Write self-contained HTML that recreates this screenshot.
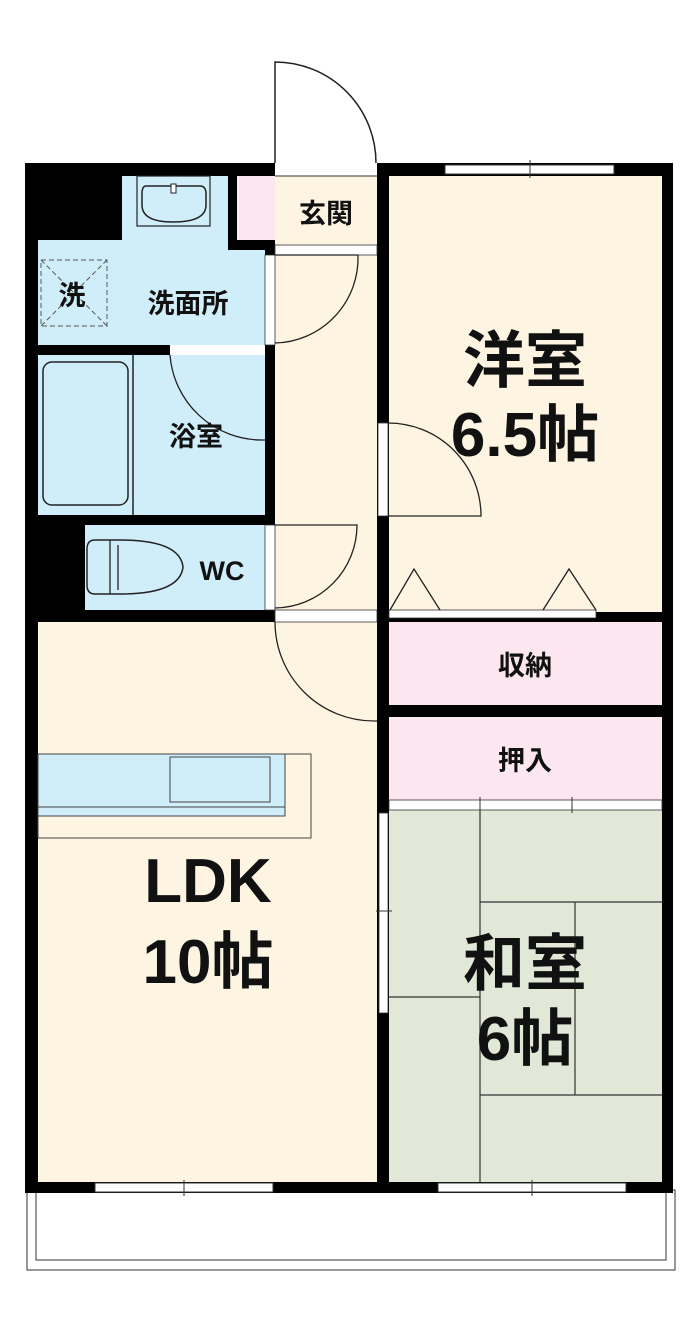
<!DOCTYPE html>
<html><head><meta charset="utf-8"><style>
html,body{margin:0;padding:0;background:#fff;}
svg{display:block;}
text{font-family:"Liberation Sans","Noto Sans CJK JP",sans-serif;fill:#111;text-anchor:middle;}
.big{font-size:62px;font-weight:bold;}
.sm{font-size:27px;font-weight:bold;}
</style></head><body>
<svg width="700" height="1333" viewBox="0 0 700 1333" xmlns="http://www.w3.org/2000/svg">
<rect x="27" y="1190" width="648" height="80" fill="#fff" stroke="#555" stroke-width="1.2"/>
<rect x="36" y="1190" width="630" height="70" fill="none" stroke="#555" stroke-width="1.2"/>
<rect x="25" y="163" width="648" height="1030" fill="#000"/>
<rect x="389" y="176" width="273" height="436" fill="#fdf5e2"/>
<rect x="38" y="622" width="339" height="560" fill="#fdf5e2"/>
<rect x="275" y="176" width="102" height="434" fill="#fdf5e2"/>
<rect x="389" y="622" width="273" height="83" fill="#fce6ef"/>
<rect x="389" y="717" width="273" height="83" fill="#fce6ef"/>
<rect x="389" y="810" width="273" height="372" fill="#e2e8d8"/>
<rect x="237" y="176" width="38" height="64" fill="#fce6ef"/>
<path d="M122 176 H228 V250 H265 V345 H38 V240 H122 Z" fill="#d0eefa"/>
<rect x="38" y="355" width="227" height="160" fill="#d0eefa"/>
<rect x="85" y="525" width="180" height="85" fill="#d0eefa"/>
<rect x="265" y="250" width="10" height="360" fill="#000"/>
<rect x="137" y="176" width="73" height="50" fill="none" stroke="#222" stroke-width="1.2"/>
<path d="M146 186 H200 Q206 186 206 194 V205 Q206 222 173 222 Q142 222 142 205 V194 Q142 186 146 186 Z" fill="none" stroke="#222" stroke-width="1.5"/>
<rect x="171" y="184" width="5" height="9" fill="#fff" stroke="#222"/>
<rect x="41" y="260" width="66" height="66" fill="none" stroke="#555" stroke-dasharray="5,3"/>
<path d="M41 260 L107 326 M107 260 L41 326" stroke="#555" stroke-dasharray="5,3"/>
<rect x="43" y="362" width="85" height="143" rx="9" fill="none" stroke="#222" stroke-width="1.5"/>
<line x1="133" y1="355" x2="133" y2="515" stroke="#222" stroke-width="1.5"/>
<rect x="170" y="345" width="95" height="10" fill="#fff"/>
<path d="M170 355 A92 92 0 0 0 262 440 L265 440" fill="none" stroke="#222" stroke-width="1.3"/>
<path d="M95 540 H120 Q180 540 183 567 Q180 594 120 594 H95 Q87 594 87 585 V549 Q87 540 95 540 Z" fill="#d0eefa" stroke="#222" stroke-width="1.5"/>
<line x1="110" y1="540" x2="110" y2="594" stroke="#222" stroke-width="1.3"/>
<line x1="118" y1="545" x2="118" y2="590" stroke="#222" stroke-width="1.3"/>
<rect x="275" y="163" width="102" height="13" fill="#fff"/>
<line x1="275" y1="176" x2="377" y2="176" stroke="#333"/>
<path d="M275 163 V62 A101 101 0 0 1 376 163" fill="none" stroke="#222" stroke-width="1.5"/>
<rect x="275" y="245" width="102" height="10" fill="#fff" stroke="#333" stroke-width="0.8"/>
<rect x="265" y="255" width="10" height="90" fill="#fff" stroke="#333" stroke-width="0.8"/>
<path d="M275 255 H358 A85 85 0 0 1 275 343" fill="none" stroke="#222" stroke-width="1.3"/>
<rect x="265" y="525" width="10" height="85" fill="#fff" stroke="#333" stroke-width="0.8"/>
<path d="M275 525 H357 A83 83 0 0 1 275 608" fill="none" stroke="#222" stroke-width="1.3"/>
<rect x="275" y="610" width="102" height="12" fill="#fff" stroke="#333" stroke-width="0.8"/>
<path d="M275 622 A99 99 0 0 0 374 721 L377 721" fill="none" stroke="#222" stroke-width="1.3"/>
<rect x="445" y="165" width="169" height="9" fill="#fff" stroke="#333"/>
<line x1="530" y1="160" x2="530" y2="178" stroke="#333"/>
<rect x="378" y="423" width="10" height="93" fill="#fff" stroke="#333" stroke-width="0.8"/>
<path d="M388 423 A93 93 0 0 1 481 516 H388" fill="none" stroke="#222" stroke-width="1.3"/>
<rect x="389" y="610" width="207" height="8" fill="#fff" stroke="#333" stroke-width="0.8"/>
<path d="M390 610 L414 569 L440 610 M543 610 L569 569 L596 610" fill="none" stroke="#222" stroke-width="1.3"/>
<rect x="389" y="800" width="273" height="10" fill="#fff" stroke="#333" stroke-width="0.8"/>
<line x1="480" y1="797" x2="480" y2="813" stroke="#333"/>
<line x1="572" y1="797" x2="572" y2="813" stroke="#333"/>
<rect x="379" y="813" width="9" height="200" fill="#fff" stroke="#333" stroke-width="0.8"/>
<line x1="376" y1="911" x2="392" y2="911" stroke="#333"/>
<g stroke="#333" stroke-width="1.2" fill="none">
<line x1="480" y1="810" x2="480" y2="1182"/>
<line x1="480" y1="902" x2="662" y2="902"/>
<line x1="575" y1="902" x2="575" y2="1095"/>
<line x1="389" y1="997" x2="480" y2="997"/>
<line x1="480" y1="1095" x2="662" y2="1095"/>
</g>
<rect x="38" y="754" width="273" height="84" fill="#fdf5e2" stroke="#444" stroke-width="1"/>
<rect x="38" y="754" width="247" height="62" fill="#d0eefa" stroke="#444" stroke-width="1"/>
<rect x="170" y="757" width="100" height="45" fill="#d0eefa" stroke="#444" stroke-width="1"/>
<line x1="38" y1="807" x2="285" y2="807" stroke="#444"/>
<rect x="95" y="1183" width="178" height="9" fill="#fff" stroke="#333"/>
<line x1="184" y1="1180" x2="184" y2="1196" stroke="#333"/>
<rect x="438" y="1183" width="188" height="9" fill="#fff" stroke="#333"/>
<line x1="532" y1="1180" x2="532" y2="1196" stroke="#333"/>
<text x="326" y="223" class="sm">玄関</text>
<text x="72" y="305" class="sm">洗</text>
<text x="188" y="313" class="sm">洗面所</text>
<text x="196" y="446" class="sm">浴室</text>
<text x="222" y="580" class="sm">WC</text>
<text x="525" y="382" class="big">洋室</text>
<text x="525" y="456" class="big">6.5帖</text>
<text x="525" y="675" class="sm">収納</text>
<text x="525" y="770" class="sm">押入</text>
<text x="208" y="902" class="big">LDK</text>
<text x="208" y="983" class="big">10帖</text>
<text x="525" y="985" class="big">和室</text>
<text x="525" y="1060" class="big">6帖</text>
</svg>
</body></html>
